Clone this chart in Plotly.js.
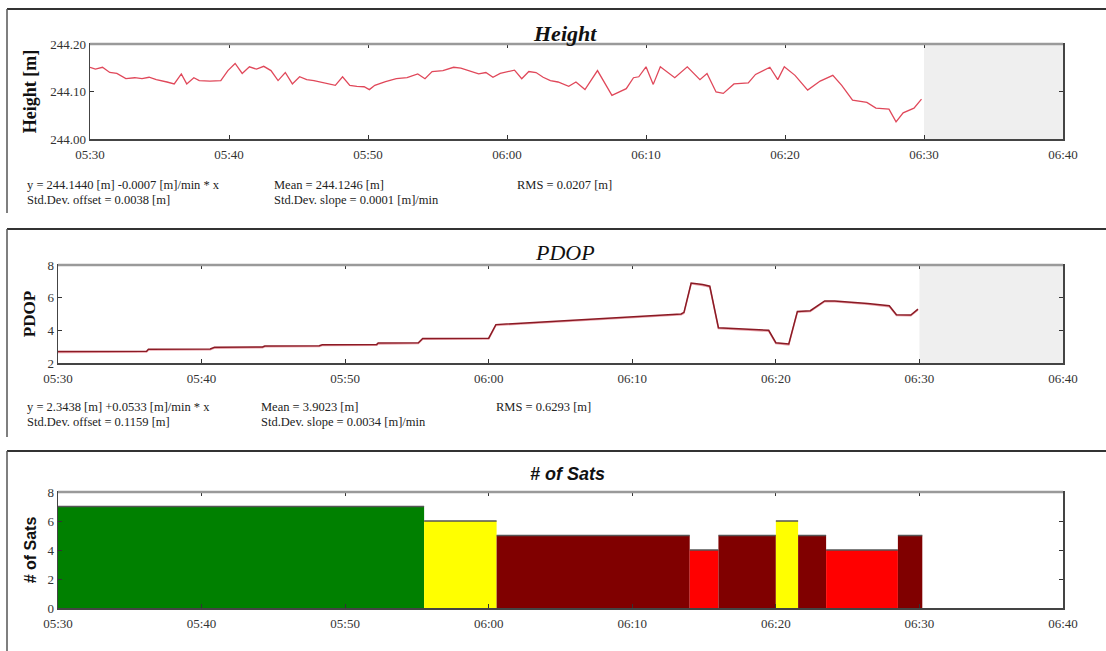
<!DOCTYPE html>
<html>
<head>
<meta charset="utf-8">
<script src="https://cdn.plot.ly/plotly-3.0.1.min.js"></script>
<style>
html,body{margin:0;padding:0;background:#fff;}
#chart{width:1106px;height:651px;}
</style>
</head>
<body>
<div id="chart"></div>
<script>
// ---- Data (time in minutes after 05:30) ----
const heightMin = [0.0,0.39,0.90,1.42,1.93,2.58,3.22,3.74,4.25,4.77,5.54,6.06,6.57,6.96,7.47,7.86,8.63,9.41,9.92,10.44,10.95,11.47,11.98,12.5,13.02,13.53,14.05,14.56,15.08,15.59,16.11,16.62,17.14,17.65,18.17,18.69,19.2,19.72,20.1,20.49,21.26,22.04,22.81,23.58,24.1,24.61,25.39,26.16,26.68,27.19,27.96,28.48,28.99,29.51,30.03,30.54,31.06,31.57,32.09,32.6,33.12,33.67,34.44,34.96,35.61,36.51,37.55,38.58,39.1,39.48,40.0,40.52,41.03,42.07,42.97,43.88,44.39,45.04,45.56,46.33,47.36,47.88,48.91,49.48,49.95,50.72,51.63,52.53,53.44,54.08,54.86,55.89,56.54,57.48,57.99,58.5,59.28,59.82];
const heightVal = [244.151,244.147,244.151,244.140,244.138,244.127,244.129,244.127,244.130,244.125,244.120,244.116,244.137,244.116,244.129,244.123,244.122,244.123,244.144,244.159,244.138,244.152,244.147,244.153,244.144,244.123,244.140,244.116,244.131,244.125,244.123,244.120,244.116,244.113,244.131,244.113,244.111,244.110,244.104,244.113,244.121,244.127,244.129,244.137,244.127,244.142,244.144,244.151,244.149,244.144,244.137,244.140,244.130,244.138,244.142,244.145,244.127,244.142,244.140,244.130,244.123,244.120,244.111,244.120,244.104,244.144,244.092,244.106,244.129,244.131,244.152,244.115,244.152,244.129,244.152,244.125,244.138,244.099,244.096,244.116,244.118,244.136,244.151,244.125,244.152,244.134,244.103,244.122,244.134,244.113,244.082,244.077,244.065,244.063,244.036,244.055,244.065,244.084];

const pdopMin = [0,6.17,6.3,10.6,10.9,14.25,14.4,18.2,18.4,22.2,22.3,25.1,25.4,30.0,30.5,33.6,38.0,43.4,43.6,44.1,44.9,45.4,46.0,47.1,49.5,50.0,50.9,51.5,52.4,53.4,54.1,56.4,57.9,58.4,59.4,59.9];
const pdopVal = [2.70,2.72,2.84,2.86,2.96,2.98,3.04,3.06,3.12,3.14,3.22,3.24,3.50,3.52,4.35,4.50,4.72,5.00,5.10,6.90,6.80,6.70,4.16,4.10,4.00,3.24,3.16,5.16,5.20,5.80,5.80,5.64,5.50,4.96,4.94,5.30];

const satStart = [0,25.5,30.55,44.0,46.0,50.0,51.55,53.5,58.5];
const satEnd   = [25.5,30.55,44.0,46.0,50.0,51.55,53.5,58.5,60.2];
const satCount = [7,6,5,4,5,6,5,4,5];
const satColorByCount = {7:'#008000',6:'#ffff00',5:'#800000',4:'#ff0000'};

const xStartMin = 0, xEndMin = 70, dataEndMin = 60;

// ---- helpers ----
const BASE = Date.UTC(2020,0,1,5,30,0);
function d(m){ return new Date(BASE + m*60000).toISOString().replace('T',' ').slice(0,23); }

const serif = 'Liberation Serif, Times New Roman, serif';
const sans = 'Liberation Sans, Arial, sans-serif';

const W=1106, H=651;
function fx(px){ return px/W; }
function fy(px){ return 1 - px/H; }

function xaxis(left, right, anchor){
  return {type:'date', domain:[fx(left), fx(right)], anchor:anchor,
    range:[d(xStartMin), d(xEndMin)], tickformat:'%H:%M', tick0:d(0), dtick:600000,
    ticks:'inside', ticklen:4, tickcolor:'#333', tickwidth:1, ticklabelstandoff:3,
    showline:true, linecolor:'#444', linewidth:1.5, mirror:'allticks',
    showgrid:false, zeroline:false, fixedrange:true,
    tickfont:{family:serif, size:13, color:'#333'}};
}
function yaxis(top, bottom, anchor, range, tickvals, fmt, title, titleFont, standoff){
  return {domain:[fy(bottom), fy(top)], anchor:anchor, range:range, tickvals:tickvals,
    tickformat:fmt, ticks:'inside', ticklen:4, tickcolor:'#333',
    showline:true, linecolor:'#444', linewidth:1.5, mirror:'allticks',
    showgrid:false, zeroline:false, fixedrange:true,
    tickfont:{family:serif, size:13, color:'#333'},
    title:{text:title, font:titleFont, standoff:standoff}};
}

// ---- traces ----
const traces = [];
traces.push({type:'scatter', mode:'lines', x:heightMin.map(d), y:heightVal,
  xaxis:'x', yaxis:'y', line:{color:'#e0485a', width:1.3}, hoverinfo:'x+y'});
traces.push({type:'scatter', mode:'lines', x:pdopMin.map(d), y:pdopVal.map(v=>v-0.05),
  xaxis:'x2', yaxis:'y2', line:{color:'#e8a0a8', width:1.5}, hoverinfo:'skip'});
traces.push({type:'scatter', mode:'lines', x:pdopMin.map(d), y:pdopVal,
  xaxis:'x2', yaxis:'y2', line:{color:'#8b1a24', width:1.5}, hoverinfo:'x+y'});

const satMid = satStart.map((s,i)=>d((s+satEnd[i])/2));
const satWidth = satStart.map((s,i)=>(satEnd[i]-s)*60000);
traces.push({type:'bar', x:satMid, y:satCount, width:satWidth,
  xaxis:'x3', yaxis:'y3', marker:{color:satCount.map(c=>satColorByCount[c]), line:{width:0}},
  hoverinfo:'y'});
// top edges of sats blocks
const edgeX=[], edgeY=[];
satStart.forEach((s,i)=>{ edgeX.push(d(s), d(satEnd[i]), null); edgeY.push(satCount[i], satCount[i], null); });
traces.push({type:'scatter', mode:'lines', x:edgeX, y:edgeY, xaxis:'x3', yaxis:'y3',
  line:{color:'#555', width:1.5}, hoverinfo:'skip', connectgaps:false});

// ---- layout ----
const P1 = {l:90, r:1063, t:44, b:139};
const P2 = {l:58, r:1063, t:265, b:363};
const P3 = {l:58, r:1063, t:492, b:608};

const shapes = [];
// grey "no data" areas
shapes.push({type:'rect', xref:'x', yref:'y domain', x0:d(dataEndMin), x1:d(xEndMin), y0:0, y1:1, fillcolor:'#efefef', line:{width:0}, layer:'below'});
shapes.push({type:'rect', xref:'x2', yref:'y2 domain', x0:d(dataEndMin), x1:d(xEndMin), y0:0, y1:1, fillcolor:'#efefef', line:{width:0}, layer:'below'});
// grey top frame lines
[['x','y'],['x2','y2'],['x3','y3']].forEach(([xa,ya])=>{
  shapes.push({type:'line', xref:xa+' domain', yref:ya+' domain', x0:0, x1:1, y0:1, y1:1, line:{color:'#9a9a9a', width:2.5}});
});
// panel borders
[[9,213],[229,437],[451,651]].forEach(([t,b])=>{
  shapes.push({type:'line', xref:'paper', yref:'paper', x0:fx(7), x1:1, y0:fy(t), y1:fy(t), line:{color:'#333', width:2}});
  shapes.push({type:'line', xref:'paper', yref:'paper', x0:fx(7), x1:fx(7), y0:fy(t), y1:fy(b), line:{color:'#555', width:1.5}});
});

const noteSize = 12.5;
function note(text, x, y){
  return {xref:'paper', yref:'paper', x:fx(x), y:fy(y), xanchor:'left', yanchor:'middle',
    text:text, showarrow:false, borderpad:0, font:{family:serif, size:noteSize, color:'#222'}};
}
function ptitle(text, x, y, font){
  return {xref:'paper', yref:'paper', x:fx(x), y:fy(y), xanchor:'center', yanchor:'middle',
    text:text, showarrow:false, font:font};
}
const annotations = [
  ptitle('<b><i>Height</i></b>', 565, 33, {family:serif, size:22, color:'#111'}),
  ptitle('<i>PDOP</i>', 565, 252, {family:serif, size:22, color:'#111'}),
  ptitle('<b><i># of Sats</i></b>', 567, 474, {family:sans, size:18, color:'#111'}),
  note('y = 244.1440 [m] -0.0007 [m]/min * x', 26, 185),
  note('Std.Dev. offset = 0.0038 [m]', 26, 200),
  note('Mean = 244.1246 [m]', 273, 185),
  note('Std.Dev. slope = 0.0001 [m]/min', 273, 200),
  note('RMS = 0.0207 [m]', 516, 185),
  note('y = 2.3438 [m] +0.0533 [m]/min * x', 26, 407),
  note('Std.Dev. offset = 0.1159 [m]', 26, 422),
  note('Mean = 3.9023 [m]', 260, 407),
  note('Std.Dev. slope = 0.0034 [m]/min', 260, 422),
  note('RMS = 0.6293 [m]', 495, 407)
];

const layout = {
  width:W, height:H, margin:{l:0,r:0,t:0,b:0}, paper_bgcolor:'#fff', plot_bgcolor:'#fff',
  showlegend:false, font:{family:serif, size:12, color:'#333'},
  xaxis: xaxis(P1.l, P1.r, 'y'),
  yaxis: yaxis(P1.t, P1.b, 'x', [244.0, 244.2], [244.0, 244.1, 244.2], '.2f',
    '<b>Height [m]</b>', {family:serif, size:18, color:'#111'}, 9),
  xaxis2: xaxis(P2.l, P2.r, 'y2'),
  yaxis2: yaxis(P2.t, P2.b, 'x2', [2, 8], [2,4,6,8], 'd',
    '<b>PDOP</b>', {family:serif, size:17, color:'#111'}, 7),
  xaxis3: xaxis(P3.l, P3.r, 'y3'),
  yaxis3: yaxis(P3.t, P3.b, 'x3', [0, 8], [0,2,4,6,8], 'd',
    '<b># of Sats</b>', {family:sans, size:16, color:'#111'}, 7),
  shapes:shapes, annotations:annotations
};

Plotly.newPlot('chart', traces, layout, {displayModeBar:false, staticPlot:true});
</script>
</body>
</html>
